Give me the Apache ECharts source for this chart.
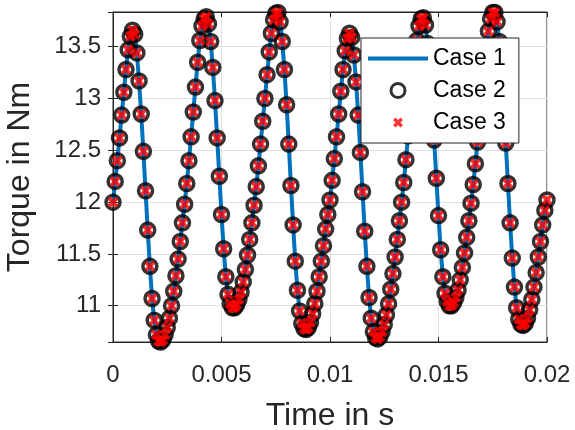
<!DOCTYPE html>
<html>
<head>
<meta charset="utf-8">
<script src="https://cdn.jsdelivr.net/npm/echarts@6/dist/echarts.min.js"></script>
<style>
  html, body { margin: 0; padding: 0; background: #fff; }
  #main { width: 575px; height: 430px; }
</style>
</head>
<body>
<div id="main"></div>
<script>
// sample step of the torque signal, s
var dt = 0.0001;

// torque samples in Nm (t = 0 ... 0.02 s)
var torque = [
  12.00, 12.20, 12.40, 12.62, 12.84, 13.06, 13.28, 13.47, 13.60, 13.66,
  13.62, 13.44, 13.17, 12.85, 12.49, 12.11, 11.73, 11.38, 11.07, 10.86,
  10.72, 10.66, 10.65, 10.67, 10.72, 10.79, 10.88, 11.00, 11.14, 11.29,
  11.45, 11.62, 11.80, 11.98, 12.18, 12.40, 12.63, 12.87, 13.11, 13.35,
  13.56, 13.70, 13.77, 13.79, 13.72, 13.55, 13.30, 12.98, 12.62, 12.25,
  11.88, 11.55, 11.28, 11.11, 11.02, 10.98, 10.98, 11.01, 11.06, 11.13,
  11.23, 11.35, 11.49, 11.64, 11.80, 11.97, 12.15, 12.35, 12.56, 12.78,
  13.00, 13.23, 13.45, 13.63, 13.76, 13.82, 13.83, 13.74, 13.55, 13.28,
  12.94, 12.56, 12.16, 11.78, 11.43, 11.15, 10.95, 10.83, 10.78, 10.77,
  10.79, 10.84, 10.92, 11.02, 11.14, 11.28, 11.43, 11.58, 11.74, 11.88,
  12.02, 12.21, 12.42, 12.63, 12.85, 13.07, 13.28, 13.46, 13.58, 13.63,
  13.59, 13.42, 13.16, 12.84, 12.48, 12.10, 11.72, 11.38, 11.08, 10.88,
  10.75, 10.69, 10.68, 10.70, 10.75, 10.82, 10.91, 11.02, 11.16, 11.31,
  11.47, 11.64, 11.82, 12.00, 12.19, 12.41, 12.64, 12.88, 13.12, 13.36,
  13.56, 13.70, 13.77, 13.78, 13.71, 13.53, 13.28, 12.96, 12.60, 12.23,
  11.87, 11.54, 11.28, 11.12, 11.04, 11.00, 11.00, 11.03, 11.08, 11.15,
  11.25, 11.37, 11.51, 11.66, 11.82, 11.99, 12.17, 12.37, 12.58, 12.80,
  13.02, 13.25, 13.47, 13.65, 13.77, 13.83, 13.83, 13.74, 13.55, 13.28,
  12.94, 12.57, 12.18, 11.80, 11.46, 11.18, 10.98, 10.87, 10.82, 10.81,
  10.83, 10.88, 10.96, 11.06, 11.18, 11.32, 11.47, 11.62, 11.78, 11.92,
  12.02
];

var seriesNames = ['Case 1', 'Case 2', 'Case 3'];
var xTicks = [0, 0.005, 0.01, 0.015, 0.02];
var yRange = [10.65, 13.835];

var points = torque.map(function (v, i) { return [+(i * dt).toFixed(4), v]; });

var crossPath = 'path://M0,2.5 L2.5,0 L5,2.5 L7.5,0 L10,2.5 L7.5,5 L10,7.5 L7.5,10 L5,7.5 L2.5,10 L0,7.5 L2.5,5 Z';
// same cross with some empty room around it, so the legend icon stays small
var crossIcon = 'path://M-2,-2 L-2,-2 Z M0,2.5 L2.5,0 L5,2.5 L7.5,0 L10,2.5 L7.5,5 L10,7.5 L7.5,10 L5,7.5 L2.5,10 L0,7.5 L2.5,5 Z M12,12 L12,12 Z';
var fontFam = '"Liberation Sans", Arial, sans-serif';
var dark = '#262626';

var myChart = echarts.init(document.getElementById('main'));
var option = {
  animation: false,
  textStyle: { fontFamily: fontFam },
  grid: {
    left: 113, right: 28, top: 12, bottom: 88,
    outerBoundsMode: 'none', containLabel: false,
    show: true, borderColor: dark, borderWidth: 1, backgroundColor: '#fff'
  },
  legend: {
    left: 361, top: 38, z: 20,
    orient: 'vertical',
    data: [
      { name: seriesNames[0], icon: 'path://M0,0 L60,0 L60,4 L0,4 Z' },
      { name: seriesNames[1], icon: 'circle',
        itemStyle: { color: 'rgba(0,0,0,0)', borderColor: '#000', borderWidth: 3 } },
      { name: seriesNames[2], icon: crossIcon }
    ],
    backgroundColor: '#fff',
    borderColor: dark,
    borderWidth: 1,
    borderRadius: 0,
    padding: [8, 13, 8, 7],
    itemWidth: 60,
    itemHeight: 14,
    itemGap: 7,
    textStyle: { fontSize: 23, color: '#000', lineHeight: 25, fontFamily: fontFam }
  },
  xAxis: [{
    type: 'value',
    min: xTicks[0], max: xTicks[xTicks.length - 1], interval: 0.005,
    name: 'Time in s', nameLocation: 'middle', nameGap: 58,
    nameTextStyle: { fontSize: 32, color: dark },
    axisLine: { lineStyle: { color: dark, width: 1 } },
    axisTick: { inside: true, length: 5, lineStyle: { color: dark } },
    axisLabel: { fontSize: 24, color: dark, margin: 21 },
    splitLine: { show: true, lineStyle: { color: '#e0e0e0', width: 1 } }
  }, {
    type: 'value', position: 'top',
    min: xTicks[0], max: xTicks[xTicks.length - 1], interval: 0.005,
    axisLine: { lineStyle: { color: dark } },
    axisTick: { inside: true, length: 5, lineStyle: { color: dark } },
    axisLabel: { show: false }, splitLine: { show: false }
  }],
  yAxis: [{
    type: 'value',
    min: yRange[0], max: yRange[1], splitNumber: 6,
    name: 'Torque in Nm', nameLocation: 'middle', nameGap: 77,
    nameTextStyle: { fontSize: 32, color: dark },
    axisLine: { show: true, lineStyle: { color: dark, width: 1 } },
    axisTick: { inside: true, length: 5, lineStyle: { color: dark } },
    axisLabel: { fontSize: 24, color: dark, margin: 12, showMinLabel: false, showMaxLabel: false },
    splitLine: { show: true, lineStyle: { color: '#e0e0e0', width: 1 } }
  }, {
    type: 'value', position: 'right',
    min: yRange[0], max: yRange[1], splitNumber: 6,
    axisLine: { show: true, lineStyle: { color: dark } },
    axisTick: { inside: true, length: 5, lineStyle: { color: dark } },
    axisLabel: { show: false }, splitLine: { show: false }
  }],
  series: [{
    name: seriesNames[0],
    type: 'line',
    data: points,
    symbol: 'none',
    lineStyle: { color: '#0072BD', width: 4 },
    itemStyle: { color: '#0072BD' },
    z: 2
  }, {
    name: seriesNames[1],
    type: 'scatter',
    data: points,
    symbol: 'circle',
    symbolSize: 14,
    itemStyle: { color: 'rgba(0,0,0,0)', borderColor: '#000', borderWidth: 3.5 },
    z: 3
  }, {
    name: seriesNames[2],
    type: 'scatter',
    data: points,
    symbol: crossPath,
    symbolSize: 11,
    itemStyle: { color: '#ff0000' },
    z: 4
  }]
};
myChart.setOption(option);
window.addEventListener('resize', function () { myChart.resize(); });
</script>
</body>
</html>
